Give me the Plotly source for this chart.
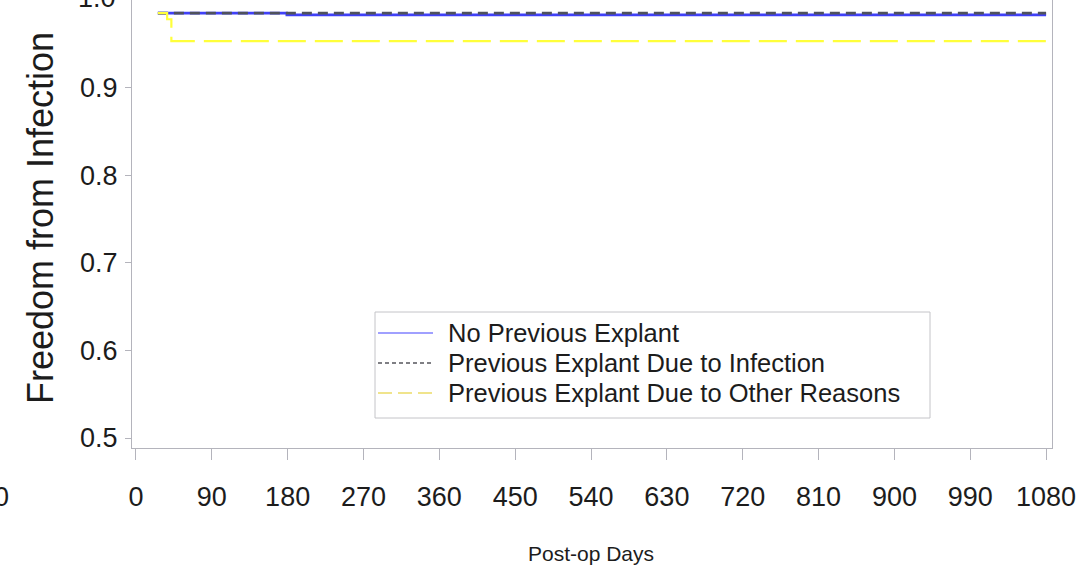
import plotly.graph_objects as go

# Kaplan-Meier step curves: freedom from infection by explant history
group_names = [
    "No Previous Explant",
    "Previous Explant Due to Infection",
    "Previous Explant Due to Other Reasons",
]
no_prev_days = [26, 179, 1080]
no_prev_surv = [0.985, 0.983, 0.983]
infect_days = [26, 1080]
infect_surv = [0.985, 0.985]
other_days = [26, 37, 42, 1080]
other_surv = [0.985, 0.978, 0.953, 0.953]

x_ticks = [0, 90, 180, 270, 360, 450, 540, 630, 720, 810, 900, 990, 1080]
y_ticks = [0.5, 0.6, 0.7, 0.8, 0.9, 1.0]

W, H = 1089, 573
L, R, T, B = 132, 1052, 0, 448
PW, PH = R - L, B - T

FONT = "Liberation Sans, Arial, sans-serif"
TXT = "#1c1c1c"
AXC = "#b4b4bc"
TICK_SIZE = 27


def px_x(p):
    return (p - L) / PW


def px_y(p):
    return (B - p) / PH


styles = [
    dict(color="#4040f8", width=2.6, dash="solid"),
    dict(color="#4f525c", width=2.6, dash="10px,6px"),
    dict(color="#ffff3a", width=2.2, dash="28px,9px"),
]
series = [(no_prev_days, no_prev_surv), (infect_days, infect_surv), (other_days, other_surv)]

fig = go.Figure()
for (xs, ys), name, st in zip(series, group_names, styles):
    fig.add_trace(go.Scatter(
        x=xs, y=ys, name=name, mode="lines", line=dict(shape="hv", **st),
        showlegend=False, hoverinfo="skip",
    ))

fig.update_layout(
    width=W, height=H,
    margin=dict(l=L, r=W - R, t=T, b=H - B, pad=0),
    paper_bgcolor="white", plot_bgcolor="white",
    xaxis=dict(
        range=[-4.7, 1087], tickvals=x_ticks, ticktext=[str(v) for v in x_ticks],
        showgrid=False, zeroline=False, showline=True, linecolor=AXC, linewidth=1,
        ticks="outside", ticklen=11, tickcolor=AXC, tickwidth=1,
        tickfont=dict(family=FONT, size=TICK_SIZE, color=TXT), ticklabelstandoff=14,
    ),
    yaxis=dict(
        range=[0.4886, 1.0], tickvals=y_ticks[:-1], ticktext=[f"{v:.1f}" for v in y_ticks[:-1]],
        showgrid=False, zeroline=False, showline=True, linecolor=AXC, linewidth=1,
        mirror=True,
        ticks="outside", ticklen=6, tickcolor=AXC, tickwidth=1,
        tickfont=dict(family=FONT, size=TICK_SIZE, color=TXT), ticklabelstandoff=2,
    ),
)

annotations = [
    dict(text="Freedom from Infection", x=px_x(40), y=px_y(218), xref="paper", yref="paper",
         textangle=-90, showarrow=False, xanchor="center", yanchor="middle",
         font=dict(family=FONT, size=36, color=TXT)),
    dict(text="Post-op Days", x=px_x(591), y=px_y(553), xref="paper", yref="paper",
         showarrow=False, xanchor="center", yanchor="middle",
         font=dict(family=FONT, size=21, color=TXT)),
    # top tick label sits on the upper edge of the plot
    dict(text=f"{y_ticks[-1]:.1f}", x=px_x(118), y=px_y(-2), xref="paper", yref="paper",
         showarrow=False, xanchor="right", yanchor="middle",
         font=dict(family=FONT, size=TICK_SIZE, color=TXT)),
    dict(text="1080", x=px_x(11), y=px_y(497), xref="paper", yref="paper",
         showarrow=False, xanchor="right", yanchor="middle",
         font=dict(family=FONT, size=TICK_SIZE, color=TXT)),
]

# legend box drawn by hand
shapes = [
    dict(type="rect", xref="paper", yref="paper", x0=px_x(375), x1=px_x(930),
         y0=px_y(418), y1=px_y(312), line=dict(color="#c4c4c8", width=1),
         fillcolor="white", layer="above"),
]
legend_rows = [333, 363, 393]
legend_styles = [
    dict(color="#8080ff", width=1.6, dash="solid"),
    dict(color="#55555c", width=1.4, dash="4px,3px"),
    dict(color="#f0e48c", width=2.2, dash="14px,6px"),
]
for name, row, st in zip(group_names, legend_rows, legend_styles):
    shapes.append(dict(type="line", xref="paper", yref="paper", x0=px_x(378), x1=px_x(433),
                       y0=px_y(row), y1=px_y(row), line=st, layer="above"))
    annotations.append(dict(text=name, x=px_x(446), y=px_y(row), xref="paper", yref="paper",
                            showarrow=False, xanchor="left", yanchor="middle",
                            font=dict(family=FONT, size=25.5, color=TXT)))

fig.update_layout(annotations=annotations, shapes=shapes)
fig.write_html("out.html")
